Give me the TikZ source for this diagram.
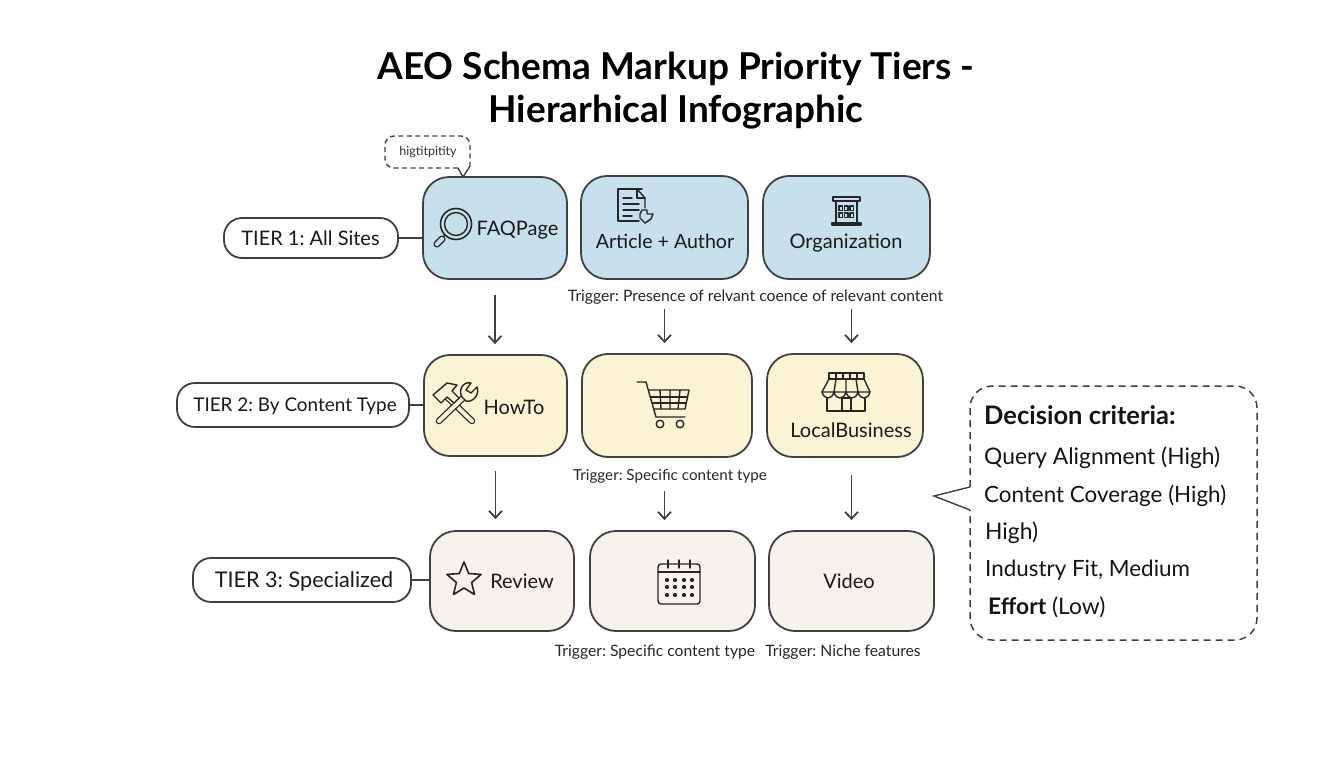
\documentclass[tikz,border=0pt]{standalone}
\usepackage{fontspec}
\setmainfont{Lato}
\frenchspacing
\usetikzlibrary{arrows.meta}
\definecolor{inkline}{HTML}{404040}
\definecolor{tieronefill}{HTML}{C6E1EB}
\definecolor{tiertwofill}{HTML}{FAF4D4}
\definecolor{tierthreefill}{HTML}{F5F3EC}
\tikzset{
    box/.style={draw=inkline, line width=1.8pt, rounded corners=26pt, inner sep=0pt},
    boxone/.style={box, fill=tieronefill},
    boxtwo/.style={box, fill=tiertwofill},
    boxthree/.style={box, fill=tierthreefill},
    pill/.style={draw=inkline, line width=1.8pt, rounded corners=18pt, fill=white, inner sep=0pt},
    lbl/.style={inner sep=0pt, text=black!90, text height=14.5pt, text depth=0pt, font=\fontsize{20}{24}\selectfont},
    trig/.style={inner sep=0pt, text=black!85, text height=11pt, text depth=0pt, font=\fontsize{15.7}{18}\selectfont},
    crit/.style={inner sep=0pt, anchor=west, text=black!92, text height=16pt, text depth=0pt, font=\fontsize{22.8}{26}\selectfont},
    flow/.style={draw=inkline, line width=1.8pt, -{Straight Barb[length=7pt,width=13pt]}},
    link/.style={draw=inkline, line width=1.8pt},
    icon/.style={draw=black!85, line width=1.4pt, line join=round, line cap=round},
    dashbox/.style={draw=inkline, line width=1.5pt, dash pattern=on 7pt off 5pt}
}
\begin{document}
\begin{tikzpicture}[x=1pt, y=-1pt]
    \useasboundingbox (0,0) rectangle (1344,768);
    % title
    \node[inner sep=0pt, align=center, text=black, font=\fontsize{37}{42.5}\selectfont\bfseries] (title) at (676,90.5) {AEO Schema Markup Priority Tiers -\\Hierarhical Infographic};
    % boxes
    \node[boxone, minimum width=144pt, minimum height=102pt] (faq) at (495,228) {};
    \node[boxone, minimum width=167pt, minimum height=103pt] (article) at (664.5,227.5) {};
    \node[boxone, minimum width=167pt, minimum height=103pt] (org) at (846.5,227.5) {};
    \node[boxtwo, minimum width=143pt, minimum height=101pt] (howto) at (495.5,405.5) {};
    \node[boxtwo, minimum width=170pt, minimum height=103pt] (cart) at (667,405.5) {};
    \node[boxtwo, minimum width=156pt, minimum height=103pt] (local) at (845,405.5) {};
    \node[boxthree, minimum width=144pt, minimum height=100pt] (review) at (502,581) {};
    \node[boxthree, minimum width=165pt, minimum height=100pt] (calendar) at (672.5,581) {};
    \node[boxthree, minimum width=165pt, minimum height=100pt] (video) at (851.5,581) {};
    % box texts
    \node[lbl] (faqtxt) at (517.5,228) {FAQPage};
    \node[lbl, font=\fontsize{19.6}{24}\selectfont] (articletxt) at (665,241) {Article + Author};
    \node[lbl] (orgtxt) at (846,241) {Organization};
    \node[lbl] (howtotxt) at (514,407) {HowTo};
    \node[lbl] (localtxt) at (851,430) {LocalBusiness};
    \node[lbl] (reviewtxt) at (522,581) {Review};
    \node[lbl] (videotxt) at (849,581) {Video};
    % tiers
    \node[pill, minimum width=174pt, minimum height=40pt] (tierone) at (311,238) {};
    \node[pill, minimum width=232pt, minimum height=44pt] (tiertwo) at (293,405) {};
    \node[pill, minimum width=218pt, minimum height=44pt] (tierthree) at (302,580) {};
    \node[lbl] (tieronetxt) at (310.5,238.5) {TIER 1: All Sites};
    \node[lbl, font=\fontsize{18.9}{22}\selectfont] (tiertwotxt) at (295,404.5) {TIER 2: By Content Type};
    \node[lbl, font=\fontsize{21.6}{26}\selectfont] (tierthreetxt) at (304,580.5) {TIER 3: Specialized};
    \draw[link] (tierone.east) -- (tierone.east -| faq.west);
    \draw[link] (tiertwo.east) -- (tiertwo.east -| howto.west);
    \draw[link] (tierthree.east) -- (tierthree.east -| review.west);
    % arrows
    \draw[flow, shorten <=15pt, shorten >=10pt] (faq.south) -- (faq.south |- howto.north);
    \draw[flow, shorten <=29pt, shorten >=10pt] (article.south) -- (article.south |- cart.north);
    \draw[flow, shorten <=29pt, shorten >=10pt] (org.south -| video.north) -- (video.north |- local.north);
    \draw[flow, shorten <=14pt, shorten >=11pt] (howto.south) -- (howto.south |- review.north);
    \draw[flow, shorten <=33pt, shorten >=10pt] (cart.south -| article.south) -- (article.south |- calendar.north);
    \draw[flow, shorten <=17pt, shorten >=10pt] (local.south -| video.south) -- (video.north);
    % triggers
    \node[trig] (trigone) at (755.5,296) {Trigger: Presence of relvant coence of relevant content};
    \node[trig, font=\fontsize{15.2}{18}\selectfont] (trigtwo) at (670,474.5) {Trigger: Specific content type};
    \node[trig] (trigthree) at (655,651) {Trigger: Specific content type};
    \node[trig] (trigfour) at (843,651) {Trigger: Niche features};
    % high priority callout
    \draw[dashbox, line width=1.4pt, rounded corners=9pt, dash pattern=on 5pt off 3.5pt] (458,168) -- (385,168) -- (385,136) -- (470,136) -- (470,166);
    \draw[link, line width=1.4pt] (470,166) -- (463,177) -- (458,168);
    \node[inner sep=0pt, text=black!80, font=\fontsize{12.5}{16}\selectfont] (hightxt) at (428,152.5) {higtitpitity};
    % decision callout
    \draw[dashbox, rounded corners=22pt] (970,487) -- (970,386) -- (1257,386) -- (1257,640) -- (970,640) -- (970,510);
    \draw[link, line width=1.4pt] (970,487) -- (934,496) -- (970,510);
    \node[crit, text height=17.5pt, font=\fontsize{25.5}{30}\selectfont\bfseries] (crithead) at (984,416) {Decision criteria:};
    \node[crit] (critone) at (984,456) {Query Alignment (High)};
    \node[crit, font=\fontsize{22.4}{26}\selectfont] (crittwo) at (984,494.5) {Content Coverage (High)};
    \node[crit] (critthree) at (985,531.5) {High)};
    \node[crit, font=\fontsize{22.4}{26}\selectfont] (critfour) at (985,568.5) {Industry Fit, Medium};
    \node[crit] (critfive) at (988,606) {\textbf{Effort} (Low)};
    % magnifier
    \begin{scope}[shift={(456,224)}]
        \draw[icon, line width=1.6pt] (0,0) circle (15.5);
        \draw[icon] (0,0) circle (11.5);
        \draw[icon] (-11,11) -- (-15,15);
        \draw[icon, line width=7pt] (-14,15) -- (-19,20);
        \draw[icon, line width=4.2pt, tieronefill] (-14,15) -- (-19,20);
    \end{scope}
    % document
    \begin{scope}[shift={(618,189)}]
        \draw[icon] (24,0) -- (0,0) -- (0,32) -- (21,32);
        \draw[icon] (19,0) -- (27,9) -- (27,19);
        \draw[icon] (19,0) -- (19,9) -- (27,9);
        \draw[icon] (5,9) -- (14,9) (5,15) -- (21,15) (5,21) -- (21,21) (5,27) -- (14,27);
        \draw[icon, fill=tieronefill] (24,21) -- (29,21) -- (29,25) -- (35,25) -- (33,30) -- (27,34) -- (22,29) -- (22,25) -- cycle;
    \end{scope}
    % building
    \begin{scope}[shift={(832,197)}]
        \draw[icon] (1,0) rectangle (28,4);
        \draw[icon] (4,4) -- (4,25) (25,4) -- (25,25);
        \draw[icon, line width=1.8pt] (0,26) rectangle (29,28);
        \foreach \wx in {7,12.5,18} \foreach \wy in {9,16} {
            \draw[icon, line width=1.1pt] (\wx,\wy) rectangle ++(3.5,4.5);
        }
    \end{scope}
    % hammer and wrench
    \draw[icon, line width=6.5pt] (447,397) -- (472,421);
    \draw[icon, line width=4pt, tiertwofill] (447,397) -- (472,421);
    \draw[icon, line width=6.5pt] (463,398) -- (439,421);
    \draw[icon, line width=4pt, tiertwofill] (463,398) -- (439,421);
    \draw[icon, fill=tiertwofill] (433,395) -- (447,383) -- (457,385) -- (452,391) -- (459,398) -- (454,403) -- (447,397) -- (441,403) -- cycle;
    \draw[icon, fill=tiertwofill] (471,383) .. controls (463,381) and (458,390) .. (462,397) -- (466,401) .. controls (473,403) and (480,394) .. (477,387) -- (471,393) -- (466,390) -- cycle;
    % cart
    \begin{scope}[shift={(637,382)}]
        \draw[icon] (0,0) -- (9,0) -- (19,35) -- (48,35);
        \draw[icon] (12,8) -- (52,8) -- (48,27) -- (17,27);
        \draw[icon] (13.5,15) -- (50,15) (15.5,21) -- (49,21);
        \draw[icon] (23,8) -- (24,27) (33,8) -- (33,27) (43,8) -- (41,27);
        \draw[icon] (23,42) circle (3.8) (43,42) circle (3.8);
    \end{scope}
    % shop
    \begin{scope}[shift={(822,373)}]
        \draw[icon] (7,0) rectangle (42,6);
        \foreach \sx in {14,21,28,35} { \draw[icon] (\sx,0) -- (\sx,6); }
        \draw[icon] (7,6) -- (0,19) (42,6) -- (48,19);
        \draw[icon] (0,19) .. controls (2,27) and (10,27) .. (12,19) .. controls (14,27) and (22,27) .. (24,19) .. controls (26,27) and (34,27) .. (36,19) .. controls (38,27) and (46,27) .. (48,19) -- (0,19);
        \draw[icon] (14,6) -- (12,19) (24,6) -- (24,19) (34,6) -- (36,19);
        \draw[icon] (5,25) -- (5,38) -- (43,38) -- (43,25);
        \draw[icon] (20,38) -- (20,25) -- (29,25) -- (29,38);
    \end{scope}
    % star
    \begin{scope}[shift={(464,580)}]
        \draw[icon, line width=1.6pt] (-90:18) -- (-54:8) -- (-18:18) -- (18:8) -- (54:18) -- (90:8) -- (126:18) -- (162:8) -- (198:18) -- (234:8) -- cycle;
    \end{scope}
    % calendar
    \begin{scope}[shift={(658,560)}]
        \draw[icon, rounded corners=3pt] (0,4) rectangle (42,44);
        \draw[icon] (0,12) -- (42,12);
        \draw[icon] (10,0) -- (10,8) (21,0) -- (21,8) (32,0) -- (32,8);
        \foreach \dx in {9,17,26,34} \foreach \dy in {20,27,35} {
            \fill[black!85] (\dx,\dy) circle (2.1);
        }
    \end{scope}
\end{tikzpicture}
\end{document}
